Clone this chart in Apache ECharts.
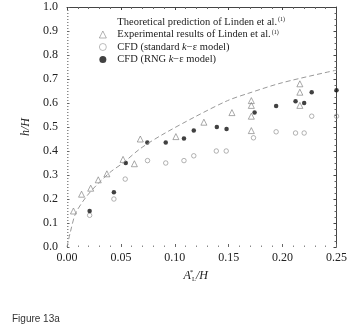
<!DOCTYPE html>
<html><head><meta charset="utf-8">
<script src="https://cdn.jsdelivr.net/npm/echarts@6/dist/echarts.min.js"></script>
<style>html,body{margin:0;padding:0;background:#fff}#c{width:350px;height:326px}</style>
</head><body><div id="c"></div>
<script>
// Data
const theoryX = [0, 0.003, 0.008, 0.018, 0.029, 0.041, 0.052, 0.068, 0.088, 0.119, 0.149, 0.168, 0.2, 0.25];
const theoryY = [0, 0.06, 0.14, 0.21, 0.265, 0.315, 0.35, 0.41, 0.467, 0.543, 0.61, 0.64, 0.685, 0.737];
const expX = [0.006, 0.0135, 0.022, 0.029, 0.037, 0.052, 0.0625, 0.068, 0.101, 0.127, 0.153, 0.171, 0.171, 0.171, 0.171, 0.216, 0.216, 0.216];
const expY = [0.15, 0.22, 0.245, 0.28, 0.305, 0.365, 0.347, 0.45, 0.46, 0.52, 0.56, 0.61, 0.59, 0.545, 0.485, 0.68, 0.645, 0.59];
const stdX = [0.021, 0.0435, 0.054, 0.0747, 0.0916, 0.1085, 0.1176, 0.1385, 0.1477, 0.173, 0.194, 0.212, 0.220, 0.227, 0.25];
const stdY = [0.132, 0.2, 0.283, 0.36, 0.35, 0.36, 0.38, 0.40, 0.40, 0.455, 0.48, 0.475, 0.475, 0.545, 0.545];
const rngX = [0.021, 0.0435, 0.0545, 0.0745, 0.0916, 0.1085, 0.1176, 0.139, 0.148, 0.174, 0.194, 0.212, 0.220, 0.227, 0.25];
const rngY = [0.15, 0.228, 0.35, 0.435, 0.435, 0.452, 0.485, 0.50, 0.492, 0.56, 0.587, 0.607, 0.60, 0.645, 0.653];
const xTickLabels = ['0.00', '0.05', '0.10', '0.15', '0.20', '0.25'];
const yTickLabels = ['0.0', '0.1', '0.2', '0.3', '0.4', '0.5', '0.6', '0.7', '0.8', '0.9', '1.0'];
const seriesNames = ['Theoretical prediction of Linden et al.', 'Experimental results of Linden et al.', 'CFD (standard k\u2212\u03b5 model)', 'CFD (RNG k\u2212\u03b5 model)'];

const zip = (a, b) => a.map((v, i) => [v, b[i]]);
const serif = '"Liberation Serif", "Times New Roman", serif';
const txt = '#222';

const legendRich = {
  p: { fontFamily: serif, fontSize: 10.5, lineHeight: 11, color: txt, padding: [0, 0, 0, 6] },
  n: { fontFamily: serif, fontSize: 10.5, lineHeight: 11, color: txt },
  i: { fontFamily: serif, fontSize: 10.5, lineHeight: 11, color: txt, fontStyle: 'italic' },
  s: { fontFamily: serif, fontSize: 6, lineHeight: 6, color: txt, verticalAlign: 'top', padding: [0, 0, 0, 1] }
};
function legendFmt(name) {
  if (name === seriesNames[0] || name === seriesNames[1]) return '{p|' + name + '}{s|(1)}';
  const parts = name.split('k');
  return '{p|' + parts[0] + '}{i|k}{n|' + parts[1] + '}';
}

const chart = echarts.init(document.getElementById('c'), null, { renderer: 'canvas' });
chart.setOption({
  animation: false,
  backgroundColor: '#fff',
  textStyle: { fontFamily: serif },
  title: {
    text: 'Figure 13a', left: 7, top: 309,
    textStyle: { fontFamily: '"Liberation Sans", Arial, sans-serif', fontSize: 10, fontWeight: 'normal', color: '#333' }
  },
  grid: { left: 67, right: 10, top: 7, bottom: 79 },
  legend: {
    orient: 'vertical', left: 99, top: 16.5, padding: 0,
    itemWidth: 7, itemHeight: 7, itemGap: 1.5,
    formatter: legendFmt,
    textStyle: { rich: legendRich, color: txt },
    data: [
      { name: seriesNames[0], icon: 'rect', itemStyle: { opacity: 0 } },
      { name: seriesNames[1], itemStyle: { borderWidth: 0.7 } },
      { name: seriesNames[2], itemStyle: { borderWidth: 0.7 } },
      { name: seriesNames[3] }
    ]
  },
  xAxis: [{
    type: 'value', min: 0, max: 0.25, interval: 0.05, position: 'bottom',
    axisLine: { show: false },
    axisTick: { show: true, inside: true, length: 3, lineStyle: { color: '#666' } },
    minorTick: { show: true, splitNumber: 5, length: 1.5, lineStyle: { color: '#888' } },
    splitLine: { show: false },
    axisLabel: {
      margin: 5, fontFamily: serif, fontSize: 12, color: txt,
      formatter: v => xTickLabels[Math.round(v / 0.05)]
    },
    name: '{i|A}{s|*}{l|L}{i|/H}', nameLocation: 'middle', nameGap: 20,
    nameTextStyle: {
      padding: [0, 12, 0, 0],
      rich: {
        i: { fontFamily: serif, fontSize: 12, lineHeight: 14, fontStyle: 'italic', color: txt },
        s: { fontFamily: serif, fontSize: 7, lineHeight: 7, color: txt, verticalAlign: 'top', width: 1 },
        l: { fontFamily: serif, fontSize: 6.5, lineHeight: 7, color: txt, verticalAlign: 'bottom' }
      }
    }
  }, {
    type: 'value', min: 0, max: 0.25, interval: 0.05, position: 'top',
    axisLine: { show: true, onZero: false, lineStyle: { color: '#444', width: 1 } },
    axisTick: { show: true, inside: true, length: 3, lineStyle: { color: '#444' } },
    minorTick: { show: true, splitNumber: 5, length: 2, lineStyle: { color: '#666' } },
    splitLine: { show: false }, axisLabel: { show: false }
  }],
  yAxis: [{
    type: 'value', min: 0, max: 1, interval: 0.1, position: 'left',
    axisLine: { show: false },
    axisTick: { show: true, inside: true, length: 2.5, lineStyle: { color: '#666' } },
    minorTick: { show: true, splitNumber: 8, length: 1.5, lineStyle: { color: '#888' } },
    splitLine: { show: false },
    axisLabel: {
      margin: 9, fontFamily: serif, fontSize: 12, color: txt,
      formatter: v => yTickLabels[Math.round(v / 0.1)]
    },
    name: 'h/H', nameLocation: 'middle', nameGap: 33, nameRotate: 90,
    nameTextStyle: { fontFamily: serif, fontSize: 12, fontStyle: 'italic', color: txt }
  }, {
    type: 'value', min: 0, max: 1, interval: 0.1, position: 'right',
    axisLine: { show: true, onZero: false, lineStyle: { color: '#444', width: 1 } },
    axisTick: { show: true, inside: true, length: 3, lineStyle: { color: '#444' } },
    minorTick: { show: true, splitNumber: 4, length: 2, lineStyle: { color: '#666' } },
    splitLine: { show: false }, axisLabel: { show: false }
  }],
  series: [
    {
      name: seriesNames[0], type: 'line', smooth: 0.3, symbol: 'none', silent: true,
      data: zip(theoryX, theoryY),
      lineStyle: { color: '#999', width: 1, type: [5, 3] }, itemStyle: { color: '#999' }
    },
    {
      name: seriesNames[1], type: 'scatter', symbol: 'triangle', symbolSize: 6,
      data: zip(expX, expY),
      itemStyle: { color: 'rgba(255,255,255,0)', borderColor: '#777', borderWidth: 0.8 }
    },
    {
      name: seriesNames[2], type: 'scatter', symbol: 'circle', symbolSize: 4.5,
      data: zip(stdX, stdY),
      itemStyle: { color: 'rgba(255,255,255,0)', borderColor: '#888', borderWidth: 0.8 }
    },
    {
      name: seriesNames[3], type: 'scatter', symbol: 'circle', symbolSize: 4.5,
      data: zip(rngX, rngY),
      itemStyle: { color: '#111' }
    }
  ]
});
</script></body></html>
